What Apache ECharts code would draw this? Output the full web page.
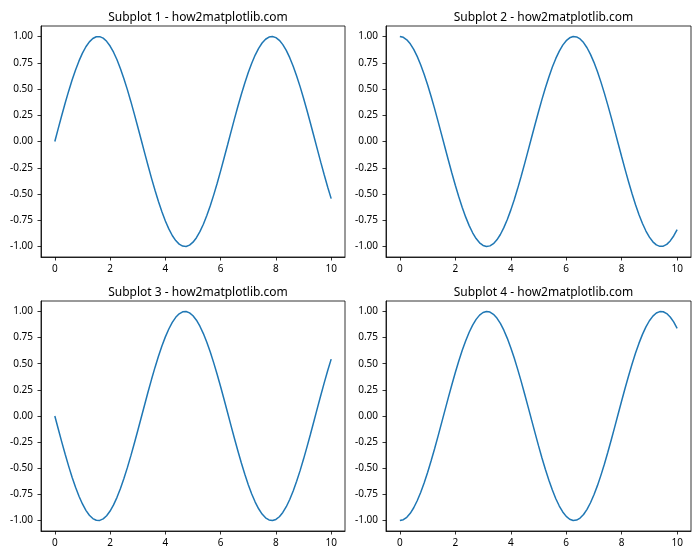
<!DOCTYPE html>
<html>
<head>
<meta charset="utf-8">
<script src="https://cdn.jsdelivr.net/npm/echarts@6/dist/echarts.min.js"></script>
<style>html,body{margin:0;padding:0;background:#fff}#c{width:700px;height:560px}</style>
</head>
<body>
<div id="c"></div>
<script>
var xValues = [0,0.125,0.25,0.375,0.5,0.625,0.75,0.875,1,1.125,1.25,1.375,1.5,1.625,1.75,1.875,2,2.125,2.25,2.375,2.5,2.625,2.75,2.875,3,3.125,3.25,3.375,3.5,3.625,3.75,3.875,4,4.125,4.25,4.375,4.5,4.625,4.75,4.875,5,5.125,5.25,5.375,5.5,5.625,5.75,5.875,6,6.125,6.25,6.375,6.5,6.625,6.75,6.875,7,7.125,7.25,7.375,7.5,7.625,7.75,7.875,8,8.125,8.25,8.375,8.5,8.625,8.75,8.875,9,9.125,9.25,9.375,9.5,9.625,9.75,9.875,10];
var series1 = [0,0.1247,0.2474,0.3663,0.4794,0.5851,0.6816,0.7675,0.8415,0.9023,0.9490,0.9809,0.9975,0.9985,0.9840,0.9541,0.9093,0.8503,0.7781,0.6937,0.5985,0.4940,0.3817,0.2635,0.1411,0.0166,-0.1082,-0.2313,-0.3508,-0.4648,-0.5716,-0.6695,-0.7568,-0.8324,-0.8950,-0.9436,-0.9775,-0.9962,-0.9993,-0.9868,-0.9589,-0.9161,-0.8589,-0.7884,-0.7055,-0.6116,-0.5082,-0.3969,-0.2794,-0.1575,-0.0332,0.0917,0.2151,0.3352,0.4500,0.5578,0.6570,0.7459,0.8231,0.8875,0.9380,0.9739,0.9946,0.9998,0.9894,0.9635,0.9228,0.8676,0.7985,0.7172,0.6247,0.5225,0.4121,0.2953,0.1743,0.0502,-0.0752,-0.1989,-0.3195,-0.4351,-0.5440];
var series2 = [1,0.9922,0.9689,0.9305,0.8776,0.8110,0.7317,0.6410,0.5403,0.4312,0.3153,0.1945,0.0707,-0.0542,-0.1782,-0.2995,-0.4161,-0.5262,-0.6282,-0.7203,-0.8011,-0.8695,-0.9243,-0.9647,-0.9900,-0.9999,-0.9941,-0.9729,-0.9365,-0.8855,-0.8206,-0.7429,-0.6536,-0.5541,-0.4461,-0.3310,-0.2108,-0.0873,0.0376,0.1619,0.2837,0.4010,0.5121,0.6152,0.7087,0.7911,0.8612,0.9178,0.9602,0.9875,0.9994,0.9957,0.9766,0.9422,0.8930,0.8299,0.7539,0.6661,0.5679,0.4609,0.3466,0.2270,0.1036,-0.0212,-0.1455,-0.2677,-0.3854,-0.4974,-0.6020,-0.6969,-0.7810,-0.8528,-0.9111,-0.9554,-0.9847,-0.9988,-0.9972,-0.9800,-0.9469,-0.8997,-0.8391];
var series3 = [0,-0.1247,-0.2474,-0.3663,-0.4794,-0.5851,-0.6816,-0.7675,-0.8415,-0.9023,-0.9490,-0.9809,-0.9975,-0.9985,-0.9840,-0.9541,-0.9093,-0.8503,-0.7781,-0.6937,-0.5985,-0.4940,-0.3817,-0.2635,-0.1411,-0.0166,0.1082,0.2313,0.3508,0.4648,0.5716,0.6695,0.7568,0.8324,0.8950,0.9436,0.9775,0.9962,0.9993,0.9868,0.9589,0.9161,0.8589,0.7884,0.7055,0.6116,0.5082,0.3969,0.2794,0.1575,0.0332,-0.0917,-0.2151,-0.3352,-0.4500,-0.5578,-0.6570,-0.7459,-0.8231,-0.8875,-0.9380,-0.9739,-0.9946,-0.9998,-0.9894,-0.9635,-0.9228,-0.8676,-0.7985,-0.7172,-0.6247,-0.5225,-0.4121,-0.2953,-0.1743,-0.0502,0.0752,0.1989,0.3195,0.4351,0.5440];
var series4 = [-1,-0.9922,-0.9689,-0.9305,-0.8776,-0.8110,-0.7317,-0.6410,-0.5403,-0.4312,-0.3153,-0.1945,-0.0707,0.0542,0.1782,0.2995,0.4161,0.5262,0.6282,0.7203,0.8011,0.8695,0.9243,0.9647,0.9900,0.9999,0.9941,0.9729,0.9365,0.8855,0.8206,0.7429,0.6536,0.5541,0.4461,0.3310,0.2108,0.0873,-0.0376,-0.1619,-0.2837,-0.4010,-0.5121,-0.6152,-0.7087,-0.7911,-0.8612,-0.9178,-0.9602,-0.9875,-0.9994,-0.9957,-0.9766,-0.9422,-0.8930,-0.8299,-0.7539,-0.6661,-0.5679,-0.4609,-0.3466,-0.2270,-0.1036,0.0212,0.1455,0.2677,0.3854,0.4974,0.6020,0.6969,0.7810,0.8528,0.9111,0.9554,0.9847,0.9988,0.9972,0.9800,0.9469,0.8997,0.8391];
var titles = ["Subplot 1 - how2matplotlib.com","Subplot 2 - how2matplotlib.com","Subplot 3 - how2matplotlib.com","Subplot 4 - how2matplotlib.com"];
var xTicks = [0,2,4,6,8,10];
var yTicks = [-1,-0.75,-0.5,-0.25,0,0.25,0.5,0.75,1];

var allSeries = [series1, series2, series3, series4];
var FONT = "Noto Sans";
var grids = [
  {left:41, top:26, width:304, height:231},
  {left:386, top:26, width:305, height:231},
  {left:41, top:301, width:304, height:230},
  {left:386, top:301, width:305, height:230}
];
var option = {
  animation:false,
  backgroundColor:'#fff',
  title:[], grid:[], xAxis:[], yAxis:[], series:[]
};
grids.forEach(function(g,i){
  option.grid.push({left:g.left, top:g.top, width:g.width, height:g.height, show:true, borderColor:'#000', borderWidth:0.8, containLabel:false});
  option.title.push({text:titles[i], left:g.left+g.width/2, top:g.top-19, textAlign:'center',
    textStyle:{fontFamily:FONT, fontSize:12, fontWeight:'normal', color:'#000'}});
  option.xAxis.push({type:'value', gridIndex:i, min:-0.5, max:10.5, position:'bottom',
    axisLine:{show:true, onZero:false, lineStyle:{color:'#000', width:0.8}}, splitLine:{show:false},
    axisTick:{show:true, inside:false, customValues:xTicks, length:3.5, lineStyle:{color:'#000', width:0.8}},
    axisLabel:{customValues:xTicks, color:'#000', fontFamily:FONT, fontSize:10, margin:7}});
  option.yAxis.push({type:'value', gridIndex:i, min:-1.1, max:1.1, position:'left',
    axisLine:{show:true, onZero:false, lineStyle:{color:'#000', width:0.8}}, splitLine:{show:false},
    axisTick:{show:true, inside:false, customValues:yTicks, length:3.5, lineStyle:{color:'#000', width:0.8}},
    axisLabel:{customValues:yTicks, color:'#000', fontFamily:FONT, fontSize:10, margin:8,
      formatter:function(v){return v.toFixed(2);}}});
  option.series.push({type:'line', xAxisIndex:i, yAxisIndex:i, showSymbol:false, smooth:false,
    lineStyle:{color:'#1f77b4', width:1.5},
    data: xValues.map(function(x,k){return [x, allSeries[i][k]];})});
});
var chart = echarts.init(document.getElementById('c'), null, {renderer:'canvas'});
chart.setOption(option);
</script>
</body>
</html>
